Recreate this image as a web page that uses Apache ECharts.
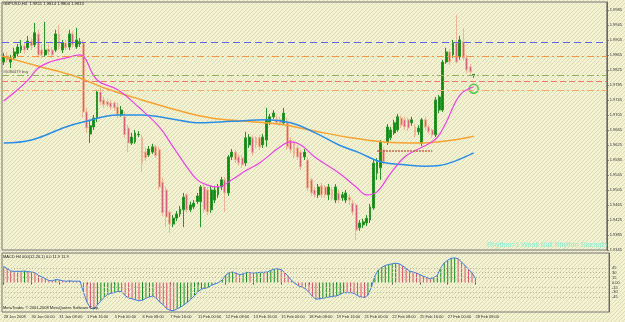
<!DOCTYPE html>
<html>
<head>
<meta charset="utf-8">
<script src="https://cdn.jsdelivr.net/npm/echarts@6.0.0/dist/echarts.min.js"></script>
<style>
html, body { margin: 0; padding: 0; background: #efeec8; }
#main { width: 625px; height: 322px; }
</style>
</head>
<body>
<div id="main"></div>
<script>
// GBPUSD H4, 28 Jan 16:00 .. 28 Feb 08:00 2008
var open = [
1.9846,1.9862,1.9846,1.9857,1.9868,1.9878,1.9889,1.9884,1.9902,1.9892,
1.9921,1.9878,1.9865,1.9881,1.9878,1.9878,1.9921,1.9878,1.9897,1.9886,
1.9921,1.9886,1.9894,1.9897,1.9713,1.9654,1.9673,1.9697,1.9766,1.9745,
1.9740,1.9737,1.9737,1.9726,1.9705,1.9700,1.9670,1.9630,1.9633,1.9652,
1.9644,1.9606,1.9598,1.9606,1.9620,1.9612,1.9526,1.9505,1.9446,1.9414,
1.9430,1.9441,1.9452,1.9492,1.9452,1.9460,1.9474,1.9474,1.9513,1.9505,
1.9452,1.9478,1.9492,1.9513,1.9532,1.9497,1.9593,1.9606,1.9593,1.9590,
1.9577,1.9625,1.9644,1.9644,1.9644,1.9625,1.9638,1.9686,1.9700,1.9692,
1.9692,1.9684,1.9684,1.9638,1.9633,1.9617,1.9606,1.9593,1.9585,1.9532,
1.9505,1.9492,1.9516,1.9513,1.9492,1.9505,1.9478,1.9497,1.9484,1.9478,
1.9486,1.9470,1.9465,1.9404,1.9412,1.9417,1.9425,1.9457,1.9550,1.9564,
1.9612,1.9633,1.9644,1.9657,1.9665,1.9697,1.9692,1.9692,1.9684,1.9673,
1.9660,1.9630,1.9692,1.9673,1.9665,1.9652,1.9718,1.9718,1.9846,1.9873,
1.9865,1.9897,1.9860,1.9900,1.9857,1.9833,1.9811
];
var close = [
1.9862,1.9852,1.9857,1.9873,1.9886,1.9889,1.9878,1.9902,1.9889,1.9924,
1.9865,1.9865,1.9878,1.9873,1.9865,1.9921,1.9886,1.9897,1.9884,1.9921,
1.9892,1.9905,1.9900,1.9713,1.9670,1.9676,1.9697,1.9766,1.9740,1.9732,
1.9732,1.9726,1.9724,1.9705,1.9718,1.9652,1.9630,1.9646,1.9657,1.9654,
1.9577,1.9590,1.9614,1.9620,1.9596,1.9513,1.9444,1.9433,1.9414,1.9430,
1.9441,1.9454,1.9486,1.9452,1.9465,1.9470,1.9489,1.9513,1.9452,1.9446,
1.9505,1.9505,1.9513,1.9532,1.9497,1.9593,1.9606,1.9585,1.9577,1.9572,
1.9644,1.9646,1.9604,1.9625,1.9620,1.9646,1.9692,1.9700,1.9710,1.9684,
1.9684,1.9710,1.9620,1.9612,1.9598,1.9593,1.9566,1.9606,1.9510,1.9497,
1.9492,1.9513,1.9492,1.9492,1.9513,1.9484,1.9513,1.9478,1.9492,1.9497,
1.9478,1.9446,1.9398,1.9417,1.9420,1.9430,1.9460,1.9577,1.9580,1.9633,
1.9580,1.9673,1.9665,1.9684,1.9700,1.9678,1.9673,1.9670,1.9692,1.9652,
1.9670,1.9692,1.9673,1.9660,1.9652,1.9745,1.9753,1.9846,1.9873,1.9846,
1.9897,1.9846,1.9905,1.9857,1.9825,1.9820,1.9813
];
var low = [
1.9838,1.9844,1.9830,1.9852,1.9862,1.9870,1.9868,1.9878,1.9878,1.9886,
1.9857,1.9857,1.9860,1.9865,1.9857,1.9873,1.9878,1.9870,1.9878,1.9878,
1.9884,1.9881,1.9886,1.9697,1.9657,1.9630,1.9665,1.9686,1.9732,1.9724,
1.9726,1.9718,1.9716,1.9697,1.9700,1.9644,1.9606,1.9625,1.9628,1.9646,
1.9553,1.9582,1.9593,1.9601,1.9590,1.9505,1.9436,1.9406,1.9390,1.9406,
1.9422,1.9433,1.9406,1.9444,1.9446,1.9454,1.9468,1.9406,1.9444,1.9438,
1.9444,1.9470,1.9484,1.9505,1.9446,1.9489,1.9585,1.9577,1.9569,1.9564,
1.9569,1.9617,1.9596,1.9617,1.9612,1.9617,1.9620,1.9678,1.9694,1.9678,
1.9676,1.9678,1.9612,1.9604,1.9590,1.9585,1.9558,1.9585,1.9502,1.9489,
1.9484,1.9484,1.9484,1.9484,1.9478,1.9476,1.9470,1.9470,1.9476,1.9470,
1.9465,1.9438,1.9372,1.9396,1.9404,1.9409,1.9417,1.9452,1.9532,1.9532,
1.9572,1.9625,1.9638,1.9652,1.9660,1.9670,1.9665,1.9662,1.9676,1.9644,
1.9652,1.9622,1.9665,1.9654,1.9644,1.9646,1.9710,1.9713,1.9841,1.9838,
1.9857,1.9841,1.9852,1.9849,1.9817,1.9809,1.9804
];
var high = [
1.9870,1.9873,1.9865,1.9884,1.9894,1.9905,1.9897,1.9916,1.9910,1.9950,
1.9932,1.9892,1.9953,1.9894,1.9886,1.9932,1.9945,1.9905,1.9905,1.9932,
1.9929,1.9937,1.9910,1.9905,1.9724,1.9692,1.9705,1.9772,1.9777,1.9753,
1.9748,1.9745,1.9742,1.9737,1.9729,1.9713,1.9678,1.9657,1.9665,1.9662,
1.9652,1.9617,1.9622,1.9628,1.9625,1.9620,1.9537,1.9513,1.9452,1.9438,
1.9449,1.9462,1.9497,1.9497,1.9474,1.9478,1.9497,1.9518,1.9521,1.9513,
1.9516,1.9516,1.9521,1.9540,1.9540,1.9598,1.9614,1.9612,1.9601,1.9598,
1.9660,1.9654,1.9652,1.9649,1.9652,1.9654,1.9724,1.9708,1.9718,1.9705,
1.9700,1.9724,1.9697,1.9646,1.9638,1.9625,1.9612,1.9614,1.9593,1.9537,
1.9513,1.9521,1.9524,1.9518,1.9521,1.9513,1.9521,1.9505,1.9500,1.9505,
1.9494,1.9478,1.9470,1.9425,1.9428,1.9438,1.9468,1.9585,1.9590,1.9638,
1.9620,1.9681,1.9673,1.9692,1.9708,1.9705,1.9700,1.9697,1.9700,1.9681,
1.9678,1.9697,1.9700,1.9678,1.9670,1.9753,1.9758,1.9852,1.9884,1.9881,
1.9905,1.9972,1.9916,1.9937,1.9865,1.9841,1.9814
];

// moving averages as [bar, price]
var orangeMA = [[0,1.9860],[10,1.9835],[20,1.9810],[30,1.9774],[40,1.9745],[50,1.9718],[60,1.9697],
  [70,1.9688],[80,1.9680],[90,1.9662],[100,1.9645],[110,1.9633],[120,1.9630],[130,1.9638],[136,1.9648]];
var blueMA = [[0,1.9630],[8,1.9638],[18,1.9673],[23,1.9686],[33,1.9705],[40,1.9705],[47,1.9697],[57,1.9684],
  [66,1.9688],[76,1.9692],[83,1.9684],[90,1.9658],[97,1.9625],[103,1.9604],[109,1.9580],[116,1.9572],
  [122,1.9568],[126,1.9570],[130,1.9580],[136,1.9604]];
var magentaMA = [[0,1.9742],[4,1.9772],[7,1.9798],[10,1.9830],[14,1.9848],[18,1.9857],[22,1.9865],[27,1.9798],
  [33,1.9772],[39,1.9726],[45,1.9673],[49,1.9620],[53,1.9566],[56,1.9532],[59,1.9518],[62,1.9513],[66,1.9532],
  [70,1.9556],[74,1.9577],[80,1.9620],[83,1.9633],[86,1.9625],[90,1.9593],[97,1.9550],[102,1.9513],[105,1.9492],
  [108,1.9500],[112,1.9550],[116,1.9593],[120,1.9614],[125,1.9641],[128,1.9685],[132,1.9758],[136,1.9780]];
var signalSegment = [[108,1.9609],[124,1.9609]];
var circleMark = [[136,1.9775]];

// horizontal price lines
var tpLine = 1.9900, upperLevel = 1.9862, orderLine = 1.9812, bidLine = 1.9813, slLine = 1.9794, lowerLevel = 1.9772;

// MACD histogram, one per bar
var macd = [
49,42,35,34,34,34,35,33,32,30,
22,17,12,6,5,9,8,5,4,5,
4,4,4,-30,-60,-78,-81,-68,-56,-45,
-36,-33,-30,-27,-28,-40,-47,-50,-53,-56,
-54,-48,-44,-41,-48,-60,-68,-80,-85,-86,
-80,-75,-68,-60,-50,-40,-28,-20,-18,-14,
-8,-4,0,8,22,30,32,28,24,26,
31,30,29,30,31,31,32,37,41,42,
39,30,19,6,-3,-10,-14,-19,-30,-42,
-51,-50,-48,-46,-44,-42,-41,-36,-31,-31,
-31,-33,-40,-44,-46,-38,-15,20,38,46,
52,55,57,59,57,51,43,35,32,29,
24,19,15,11,15,22,45,60,68,74,
75,73,62,52,40,30,11.9
];
var macdLevels = [45, 30, 15, -15, -30, -45];
var macdTop = 81.4, macdBottom = -86.0;

var tickLabels = ['28 Jan 2008','30 Jan 00:00','31 Jan 08:00','1 Feb 16:00','5 Feb 00:00','6 Feb 08:00',
  '7 Feb 16:00','11 Feb 00:00','12 Feb 08:00','13 Feb 16:00','15 Feb 00:00','18 Feb 08:00','19 Feb 16:00',
  '21 Feb 00:00','22 Feb 08:00','25 Feb 16:00','27 Feb 00:00','28 Feb 08:00'];

// H4 bar times, weekdays only, plus the empty shift area on the right
var slotCount = 175;
var months = ['Jan','Feb','Mar'];
var categories = [];
var t = Date.UTC(2008, 0, 28, 16);
while (categories.length < slotCount) {
  var d = new Date(t);
  var dow = d.getUTCDay();
  if (dow !== 0 && dow !== 6) {
    categories.push(d.getUTCDate() + ' ' + months[d.getUTCMonth()] + ' ' + String(d.getUTCHours()).padStart(2, '0') + ':00');
  }
  t += 4 * 3600 * 1000;
}

var ohlc = open.map(function (o, i) { return [o, close[i], low[i], high[i]]; });
var macdBars = macd.map(function (v, i) {
  var up = i > 0 && v > macd[i - 1];
  return { value: v, itemStyle: { color: up ? '#14901c' : '#e2506f' } };
});

// hatched background like the terminal
var pat = document.createElement('canvas');
pat.width = 4; pat.height = 4;
var pc = pat.getContext('2d');
pc.fillStyle = '#f3f2d3';
pc.fillRect(0, 0, 4, 4);
pc.fillStyle = '#dcdbb2';
for (var k = 0; k < 4; k++) pc.fillRect(k, 3 - k, 1, 1);

var isTick = function (idx) { return idx % 8 === 0 && idx <= 136; };

function hLine(v, color, dash) {
  return { yAxis: v, lineStyle: { color: color, type: dash, width: 1 }, label: { show: false } };
}
function axisBox(v, bg) {
  return { yAxis: v, lineStyle: { opacity: 0 },
    label: { show: true, position: 'end', distance: 1, formatter: v.toFixed(4), color: '#fff',
      backgroundColor: bg, padding: [1, 1, 0, 1], fontSize: 4 } };
}

var chartDom = document.getElementById('main');
var myChart = echarts.init(chartDom);

var option = {
  animation: false,
  backgroundColor: { image: pat, repeat: 'repeat' },
  textStyle: { fontFamily: 'Liberation Sans' },
  title: [
    { text: 'GBPUSD,H4  1.9811 1.9814 1.9804 1.9813', left: 3, top: 2, padding: 0,
      textStyle: { fontSize: 4.2, fontWeight: 'normal', color: '#222' } },
    { text: 'Rhythm=1 Weak Bull Rhythm Strength', right: 18, top: 242, padding: 0,
      textStyle: { fontSize: 7, fontWeight: 'normal', color: '#86f2d6' } },
    { text: 'MACD H4 000(12,26,1) 0.0 11.9 11.9', left: 3, top: 255, padding: 0,
      textStyle: { fontSize: 4, fontWeight: 'normal', color: '#222' } },
    { text: 'MetaTrader, \u00a9 2001-2008 MetaQuotes Software Corp.', left: 3, top: 306, padding: 0,
      textStyle: { fontSize: 4, fontWeight: 'normal', color: '#222' } }
  ],
  grid: [
    { left: 2, right: 16, top: 2, height: 248, show: true, borderColor: '#777', borderWidth: 1 },
    { left: 2, right: 16, top: 253, height: 59, show: true, borderColor: '#777', borderWidth: 1 }
  ],
  xAxis: [
    { type: 'category', gridIndex: 0, data: categories, axisLine: { show: false }, axisTick: { show: false },
      axisLabel: { show: false }, splitLine: { show: false } },
    { type: 'category', gridIndex: 1, data: categories, axisLine: { show: false },
      axisTick: { show: true, interval: isTick, alignWithLabel: true, length: 2, lineStyle: { color: '#555' } },
      axisLabel: { interval: isTick, align: 'left', margin: 3, color: '#333', fontSize: 4,
        formatter: function (v, idx) { return tickLabels[idx / 8]; } },
      splitLine: { show: false } }
  ],
  yAxis: [
    { type: 'value', gridIndex: 0, position: 'right', min: 1.9345, max: 2.0006, interval: 0.004,
      axisLine: { show: true, lineStyle: { color: '#666' } },
      axisTick: { show: true, length: 2, lineStyle: { color: '#666' } },
      axisLabel: { color: '#333', fontSize: 4, margin: 3, showMaxLabel: false,
        formatter: function (v) { return v.toFixed(4); } },
      splitLine: { show: false } },
    { type: 'value', gridIndex: 1, position: 'right', min: -90, max: 90, interval: 15,
      axisLine: { show: true, lineStyle: { color: '#666' } }, axisTick: { show: false },
      axisLabel: { color: '#333', fontSize: 4, margin: 3,
        formatter: function (v) { return Math.abs(v) > 45 ? '' : (v === 0 ? '0.00' : String(v)); } },
      splitLine: { show: false } }
  ],
  series: [
    {
      name: 'GBPUSD', type: 'candlestick', xAxisIndex: 0, yAxisIndex: 0, data: ohlc, barWidth: 2.4,
      itemStyle: { color: '#0b8a0b', color0: '#d6607c', borderColor: '#2a962a', borderColor0: '#efb596', borderWidth: 1 },
      markLine: {
        silent: true, symbol: ['none', 'none'], animation: false, precision: 4,
        data: [
          hLine(tpLine, '#5f66ee', [7, 4]),
          hLine(upperLevel, '#f39448', [7, 3, 2, 3]),
          hLine(slLine, '#f07a66', [6, 3]),
          hLine(lowerLevel, '#f4ac6c', [7, 3, 2, 3]),
          { yAxis: orderLine, lineStyle: { color: '#8fb45e', type: [7, 3, 2, 3], width: 1 },
            label: { show: true, position: 'insideStartTop', distance: 1, formatter: '#6080479 buy', color: '#555', fontSize: 4 } },
          axisBox(tpLine, '#1f35ff'),
          axisBox(bidLine, '#000000'),
          axisBox(slLine, '#e8336d')
        ]
      }
    },
    { name: 'MA long', type: 'line', xAxisIndex: 0, yAxisIndex: 0, data: orangeMA, smooth: 0.4, symbol: 'none',
      lineStyle: { color: '#f7a232', width: 1.5 } },
    { name: 'MA mid', type: 'line', xAxisIndex: 0, yAxisIndex: 0, data: blueMA, smooth: 0.4, symbol: 'none',
      lineStyle: { color: '#2d8ee6', width: 1.5 } },
    { name: 'MA short', type: 'line', xAxisIndex: 0, yAxisIndex: 0, data: magentaMA, smooth: 0.4, symbol: 'none',
      lineStyle: { color: '#f043e6', width: 1.2 } },
    { name: 'Signal', type: 'line', xAxisIndex: 0, yAxisIndex: 0, data: signalSegment, symbol: 'none',
      lineStyle: { color: '#c8674e', width: 1.5, type: [2, 1] } },
    { name: 'Circle', type: 'scatter', xAxisIndex: 0, yAxisIndex: 0, data: circleMark, symbol: 'circle', symbolSize: 9,
      itemStyle: { color: 'rgba(0,0,0,0)', borderColor: '#2fbf2f', borderWidth: 1.5 } },
    {
      name: 'MACD', type: 'bar', xAxisIndex: 1, yAxisIndex: 1, data: macdBars, barWidth: 1,
      markLine: {
        silent: true, symbol: ['none', 'none'], animation: false, precision: 1,
        data: macdLevels.map(function (v) {
          return { yAxis: v, lineStyle: { color: '#b9b896', type: [1, 2], width: 1 }, label: { show: false } };
        }).concat([macdTop, macdBottom].map(function (v) {
          return { yAxis: v, lineStyle: { opacity: 0 },
            label: { show: true, position: 'end', distance: 3, formatter: v.toFixed(1), color: '#333', fontSize: 4 } };
        }))
      }
    },
    { name: 'MACD signal', type: 'line', xAxisIndex: 1, yAxisIndex: 1, data: macd, symbol: 'none',
      lineStyle: { color: '#3f7fe0', width: 1 } }
  ]
};

option && myChart.setOption(option);
</script>
</body>
</html>
